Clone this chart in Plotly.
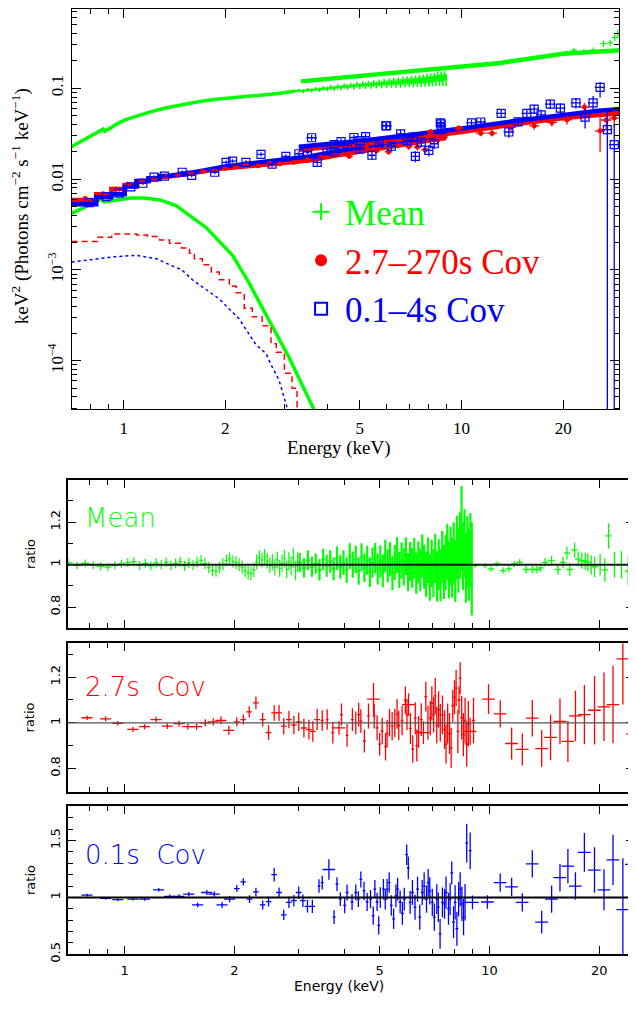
import plotly.graph_objects as go

GREEN = "#00ff00"
RED = "#ff0000"
BLUE = "#0000ff"
SERIF = "Liberation Serif"
SANS = "DejaVu Sans"

# ================= TOP PANEL: unfolded spectra =================
mean_soft_E = [0.70, 0.75, 0.80, 0.85, 0.87, 0.88, 0.92, 0.97, 1.02, 1.10, 1.20, 1.34, 1.50, 1.68, 1.85, 2.10, 2.35, 2.64, 2.90, 3.10, 3.20]
mean_soft_F = [0.0227, 0.0262, 0.0298, 0.0338, 0.0355, 0.0334, 0.0372, 0.0418, 0.0455, 0.0500, 0.0550, 0.0610, 0.0665, 0.0715, 0.0750, 0.0790, 0.0820, 0.0850, 0.0880, 0.0905, 0.0925]
mean_hard_E = [3.2, 3.3, 3.4, 3.5, 3.6, 3.7, 3.8, 3.9, 4.0, 4.1, 4.2, 4.3, 4.4, 4.5, 4.6, 4.7, 4.8, 4.9, 5.0, 5.1, 5.2, 5.3, 5.4, 5.5, 5.6, 5.7, 5.8, 5.9,
               6.0, 6.1, 6.2, 6.3, 6.4, 6.5, 6.6, 6.7, 6.8, 6.9, 7.0, 7.1, 7.2, 7.3, 7.4, 7.5, 7.6, 7.7, 7.8, 7.9, 8.0, 8.1, 8.2, 8.3, 8.4, 8.5, 8.6, 8.7, 8.8, 8.9, 9.0]
mean_hard_F = [0.0925, 0.0945, 0.0928, 0.0962, 0.0950, 0.0982, 0.0965, 0.1000, 0.0985, 0.1022, 0.1000, 0.1040, 0.1018, 0.1058, 0.1030, 0.1072, 0.1045, 0.1090, 0.1060, 0.1105, 0.1072, 0.1118, 0.1085, 0.1130, 0.1095, 0.1145, 0.1105, 0.1160,
               0.1118, 0.1170, 0.1125, 0.1185, 0.1135, 0.1195, 0.1140, 0.1210, 0.1150, 0.1220, 0.1160, 0.1232, 0.1168, 0.1245, 0.1175, 0.1258, 0.1185, 0.1270, 0.1192, 0.1285, 0.1200, 0.1300, 0.1210, 0.1320, 0.1225, 0.1360, 0.1230, 0.1345, 0.1240, 0.1380, 0.1250]
mean_hard_err = [0.004, 0.004, 0.0045, 0.0045, 0.005, 0.005, 0.0055, 0.0055,
                 0.006, 0.006, 0.0065, 0.0065, 0.007, 0.007, 0.0075, 0.0075, 0.008, 0.008,
                 0.0085, 0.0085, 0.009, 0.009, 0.0095, 0.0095, 0.010, 0.010, 0.0105, 0.0105,
                 0.011, 0.011, 0.0115, 0.0115, 0.012, 0.012, 0.0125, 0.0125, 0.013, 0.013,
                 0.0135, 0.0135, 0.014, 0.014, 0.0145, 0.0145, 0.015, 0.015, 0.0155, 0.0155,
                 0.016, 0.016, 0.0165, 0.0165, 0.017, 0.017, 0.0175, 0.0175, 0.018, 0.018, 0.019]
mean_nu_E = [3.35, 5.0, 7.0, 9.0, 10.0, 13.0, 16.0, 20.0, 25.0, 29.5]
mean_nu_F = [0.119, 0.136, 0.152, 0.165, 0.171, 0.190, 0.212, 0.240, 0.252, 0.262]
mean_nu_hi_E = [20.5, 21.5, 23.0, 24.5, 26.3, 27.5, 28.4, 29.0]
mean_nu_hi_F = [0.248, 0.262, 0.255, 0.262, 0.310, 0.315, 0.360, 0.400]
mean_nu_hi_err = [0.012, 0.015, 0.015, 0.018, 0.025, 0.025, 0.030, 0.040]

disk_mean_E = [0.702, 0.78, 0.86, 0.875, 0.95, 1.05, 1.15, 1.28, 1.43, 1.565, 1.76, 2.1, 2.35, 2.64, 3.09, 3.66]
disk_mean_F = [0.0042, 0.0050, 0.0060, 0.0056, 0.0059, 0.0062, 0.0062, 0.0059, 0.0051, 0.0040, 0.0029, 0.00145, 0.00072, 0.00032, 0.000108, 0.000029]
disk_slow_E = [0.702, 0.838, 0.922, 1.092, 1.177, 1.277, 1.367, 1.483, 1.566, 1.619, 1.71, 1.818, 1.919, 2.055, 2.154, 2.275, 2.403, 2.57, 2.73, 2.83, 2.99, 3.15, 3.26, 3.35]
disk_slow_F = [0.00206, 0.00229, 0.00249, 0.00243, 0.00233, 0.00214, 0.00197, 0.00175, 0.00153, 0.00133, 0.00114, 0.00095, 0.00078, 0.00066, 0.00056, 0.00038, 0.000305, 0.000243, 0.000154, 0.000124, 0.000073, 0.000050, 0.000031, 0.000031]
disk_fast_E = [0.702, 0.838, 0.922, 1.092, 1.251, 1.367, 1.483, 1.598, 1.756, 1.918, 2.027, 2.198, 2.305, 2.466, 2.64, 2.75, 2.88, 2.98, 3.05]
disk_fast_F = [0.00122, 0.00133, 0.00139, 0.00145, 0.00133, 0.00114, 0.00101, 0.00078, 0.00061, 0.00048, 0.00039, 0.00029, 0.00022, 0.00015, 0.00012, 0.000086, 0.000062, 0.000039, 0.000030]

slow_step_E = [0.70, 0.83, 0.92, 1.007, 1.092, 1.185, 1.277, 1.35]
slow_step_F = [0.0059, 0.0068, 0.0078, 0.0086, 0.0095, 0.0100, 0.0106, 0.0106]
fast_step_E = [0.70, 0.83, 0.92, 1.007, 1.092, 1.185, 1.277, 1.35]
fast_step_F = [0.0053, 0.0063, 0.0068, 0.0083, 0.0095, 0.0102, 0.0108, 0.0108]
slow_xmod_E = [1.35, 1.6, 2.0, 2.5, 3.15, 3.54, 4.2, 5.0, 6.0, 7.0, 8.0, 9.0]
slow_xmod_F = [0.0106, 0.0116, 0.0132, 0.0142, 0.0152, 0.0160, 0.0180, 0.0200, 0.0222, 0.0245, 0.0265, 0.0285]
fast_xmod_E = [1.35, 1.6, 2.0, 2.5, 3.15, 3.54, 4.2, 5.0, 6.0, 7.0, 8.0, 9.0]
fast_xmod_F = [0.0108, 0.0118, 0.0138, 0.0152, 0.0166, 0.0177, 0.0200, 0.0225, 0.0250, 0.0270, 0.0290, 0.0310]
slow_nmod_E = [3.3, 5.0, 7.0, 9.0, 10.0, 14.0, 20.0, 25.0, 29.5]
slow_nmod_F = [0.0210, 0.0240, 0.0280, 0.0312, 0.0330, 0.0395, 0.0470, 0.0505, 0.0530]
fast_nmod_E = [3.3, 5.0, 7.0, 9.0, 10.0, 14.0, 20.0, 25.0, 29.5]
fast_nmod_F = [0.0227, 0.0262, 0.0305, 0.0340, 0.0360, 0.0430, 0.0510, 0.0560, 0.0590]

slow_top_E = [0.77, 0.87, 0.95, 1.03, 1.13, 1.23, 1.33, 1.45, 1.58, 1.72, 1.86, 2.00, 2.15, 2.30, 2.50, 2.70, 2.90, 3.19, 3.50, 3.84, 4.20, 4.65, 5.20, 5.60, 6.08, 6.50, 6.98, 7.40, 7.80, 8.10, 8.50, 8.90]
slow_top_F = [0.0061, 0.0069, 0.0078, 0.0088, 0.0095, 0.0101, 0.0106, 0.0110, 0.0116, 0.0122, 0.0125, 0.0132, 0.0137, 0.0145, 0.0140, 0.0150, 0.0148, 0.0153, 0.0162, 0.0174, 0.0185, 0.0178, 0.0224, 0.0205, 0.0200, 0.0235, 0.0229, 0.0225, 0.0211, 0.0333, 0.0270, 0.0290]
slow_top_err = [0.0002, 0.0002, 0.0002, 0.0003, 0.0003, 0.0003, 0.0003, 0.0004, 0.0004, 0.0004, 0.0005, 0.0005, 0.0005, 0.0006, 0.0006, 0.0007, 0.0007, 0.0008, 0.0009, 0.0010, 0.0011, 0.0012, 0.0013, 0.0014, 0.0015, 0.0016, 0.0018, 0.0019, 0.0020, 0.0022, 0.0024, 0.0026]
slow_nu_top_E = [3.50, 4.30, 5.00, 6.00, 7.00, 8.00, 9.80, 11.4, 12.3, 14.0, 16.4, 18.5, 20.5, 23.1, 25.7, 26.8, 28.3]
slow_nu_top_F = [0.0205, 0.0225, 0.0245, 0.0255, 0.0280, 0.0300, 0.0365, 0.0320, 0.0320, 0.0370, 0.0386, 0.0420, 0.0450, 0.0620, 0.0340, 0.0447, 0.0470]
slow_nu_top_err = [0.0010, 0.0012, 0.0013, 0.0015, 0.0017, 0.0020, 0.0022, 0.0024, 0.0026, 0.0030, 0.0035, 0.0040, 0.0050, 0.0070, 0.0140, 0.0100, 0.0100]
fast_top_E = [0.79, 0.89, 0.97, 1.05, 1.14, 1.23, 1.32, 1.49, 1.59, 1.86, 2.01, 2.10, 2.30, 2.55, 2.75, 3.02, 3.30, 3.50, 3.74, 4.00, 4.20, 4.40, 4.60, 4.80, 5.00, 5.20, 5.43, 5.70, 5.97, 6.20, 6.60, 6.90, 7.30, 7.60, 8.00, 8.30, 8.65, 8.70]
fast_top_F = [0.0055, 0.0064, 0.0070, 0.0082, 0.0090, 0.0105, 0.0108, 0.0119, 0.0110, 0.0119, 0.0153, 0.0158, 0.0153, 0.0187, 0.0146, 0.0178, 0.0190, 0.0200, 0.0153, 0.0215, 0.0200, 0.0259, 0.0235, 0.0287, 0.0215, 0.0293, 0.0183, 0.0250, 0.0387, 0.0230, 0.0315, 0.0265, 0.0178, 0.0255, 0.0207, 0.0245, 0.0417, 0.0350]
fast_top_err = [0.0003, 0.0003, 0.0003, 0.0004, 0.0004, 0.0005, 0.0005, 0.0005, 0.0005, 0.0006, 0.0007, 0.0007, 0.0008, 0.0010, 0.0009, 0.0010, 0.0012, 0.0012, 0.0012, 0.0015, 0.0015, 0.0020, 0.0020, 0.0022, 0.0020, 0.0024, 0.0020, 0.0025, 0.0030, 0.0025, 0.0030, 0.0030, 0.0025, 0.0030, 0.0030, 0.0030, 0.0045, 0.0040]
fast_nu_top_E = [3.60, 4.20, 5.00, 6.00, 7.20, 8.70, 10.7, 11.4, 13.1, 13.8, 14.7, 15.6, 16.4, 17.2, 18.3, 19.6, 21.8, 23.2, 24.5, 25.7, 27.0, 28.3]
fast_nu_top_F = [0.0285, 0.0240, 0.0265, 0.0386, 0.0290, 0.0405, 0.0415, 0.0425, 0.0530, 0.0330, 0.0426, 0.0530, 0.0590, 0.0508, 0.0670, 0.0605, 0.0690, 0.0480, 0.0690, 0.1020, 0.0350, 0.0240]
fast_nu_top_errp = [0.0020, 0.0020, 0.0022, 0.0028, 0.0025, 0.0035, 0.0035, 0.0040, 0.0050, 0.0045, 0.0050, 0.0060, 0.0065, 0.0070, 0.0075, 0.0080, 0.0090, 0.0120, 0.0130, 0.0150, 0.0200, 0.0160]
fast_nu_top_errm = [0.0020, 0.0020, 0.0022, 0.0028, 0.0025, 0.0035, 0.0035, 0.0040, 0.0050, 0.0045, 0.0050, 0.0060, 0.0065, 0.0070, 0.0075, 0.0080, 0.0090, 0.0120, 0.0130, 0.0230, 0.0350, 0.0240]

# ================= RATIO PANELS =================
mean_r_soft_E = [0.70, 0.74, 0.78, 0.82, 0.86, 0.90, 0.94, 0.98, 1.02, 1.06, 1.10, 1.14, 1.18, 1.22, 1.26, 1.30, 1.34, 1.38, 1.42, 1.46, 1.50, 1.54, 1.58, 1.62, 1.66, 1.70, 1.74, 1.78, 1.82, 1.86, 1.90, 1.94, 1.98, 2.02, 2.06, 2.10, 2.14, 2.18, 2.22, 2.26, 2.30, 2.34, 2.38, 2.42, 2.46, 2.50, 2.54, 2.58, 2.62, 2.66, 2.70, 2.74, 2.78, 2.82, 2.86, 2.90, 2.94, 2.98]
mean_r_soft_R = [1.008, 0.996, 1.006, 0.998, 0.992, 0.988, 0.997, 1.004, 1.010, 1.014, 0.996, 1.006, 0.994, 1.008, 1.000, 1.012, 0.996, 1.006, 1.014, 0.994, 1.008, 0.998, 1.012, 1.020, 1.006, 0.986, 0.972, 0.970, 0.985, 1.002, 1.020, 1.028, 1.015, 1.010, 1.000, 0.988, 0.972, 0.962, 0.958, 0.975, 1.012, 1.032, 1.022, 1.038, 1.018, 0.998, 1.012, 0.988, 1.022, 0.982, 1.006, 1.028, 0.978, 1.016, 0.994, 1.032, 0.972, 1.012]
mean_r_soft_err = [0.018, 0.018, 0.018, 0.018, 0.019, 0.019, 0.019, 0.019, 0.020, 0.021, 0.021, 0.021, 0.021, 0.022, 0.022, 0.022, 0.023, 0.023, 0.023, 0.024, 0.024, 0.024, 0.025, 0.025, 0.026, 0.026, 0.026, 0.027, 0.027, 0.028, 0.028, 0.029, 0.029, 0.030, 0.030, 0.031, 0.031, 0.032, 0.032, 0.033, 0.034, 0.034, 0.035, 0.036, 0.036, 0.037, 0.038, 0.039, 0.039, 0.040, 0.041, 0.042, 0.042, 0.043, 0.044, 0.045, 0.046, 0.046]
mean_r_hard_E = [3.02, 3.10, 3.18, 3.26, 3.34, 3.42, 3.50, 3.58, 3.66, 3.74, 3.82, 3.90, 3.98, 4.06, 4.14, 4.22, 4.30, 4.38, 4.46, 4.54, 4.62, 4.70, 4.78, 4.86, 4.94, 5.02, 5.10, 5.18, 5.26, 5.34, 5.42, 5.50, 5.58, 5.66, 5.74, 5.82, 5.90, 5.98, 6.06, 6.14, 6.22, 6.30, 6.38, 6.46, 6.54, 6.62, 6.70, 6.78, 6.86, 6.94, 7.02, 7.10, 7.18, 7.26, 7.34, 7.42, 7.50, 7.58, 7.66, 7.74, 7.82, 7.90, 7.98, 8.06, 8.14, 8.22, 8.30, 8.38, 8.46, 8.54, 8.62, 8.70, 8.78, 8.86, 8.94]
mean_r_hard_R = [1.010, 0.985, 1.020, 0.990, 1.005, 0.975, 1.025, 0.995, 1.015, 0.980, 1.030, 0.990, 1.010, 0.975, 1.040, 1.000, 1.025, 0.970, 1.035, 0.985, 1.020, 0.965, 1.010, 1.030, 0.980, 1.015, 0.970, 1.040, 0.995, 1.025, 0.960, 1.010, 1.045, 0.975, 1.020, 0.990, 1.040, 0.965, 1.015, 0.985, 1.030, 0.960, 1.010, 0.975, 1.040, 0.990, 0.955, 1.020, 0.940, 1.005, 0.960, 1.030, 0.945, 1.000, 0.950, 1.035, 0.965, 1.010, 1.060, 0.975, 1.040, 0.985, 1.055, 0.970, 1.080, 1.020, 1.090, 1.170, 1.040, 1.100, 0.985, 1.060, 1.000, 1.070, 0.980]
mean_r_hard_err = [0.045, 0.045, 0.047, 0.047, 0.048, 0.050, 0.050, 0.052, 0.053, 0.054, 0.055, 0.056, 0.058, 0.060, 0.061, 0.062, 0.064, 0.065, 0.066, 0.067, 0.068, 0.070, 0.071, 0.072, 0.073, 0.075, 0.076, 0.077, 0.078, 0.080, 0.081, 0.082, 0.084, 0.085, 0.086, 0.088, 0.089, 0.090, 0.092, 0.094, 0.095, 0.097, 0.099, 0.100, 0.102, 0.104, 0.106, 0.108, 0.110, 0.112, 0.114, 0.116, 0.118, 0.120, 0.122, 0.124, 0.127, 0.130, 0.132, 0.135, 0.138, 0.140, 0.143, 0.146, 0.150, 0.152, 0.155, 0.200, 0.160, 0.162, 0.165, 0.168, 0.170, 0.172, 0.220]
mean_r_nu_E = [9.14, 9.73, 10.1, 10.5, 10.9, 11.3, 11.7, 12.1, 12.6, 13.1, 13.5, 13.8, 14.2, 14.8, 15.4, 15.9, 16.3, 16.6, 17.1, 17.5, 17.9, 18.3, 18.6, 19.0, 19.4, 20.1, 20.7, 21.2, 22.0, 23.0, 24.0, 24.7]
mean_r_nu_R = [0.995, 0.995, 0.980, 1.003, 0.972, 0.980, 1.003, 1.011, 0.977, 0.977, 0.977, 0.985, 1.011, 1.019, 0.977, 1.011, 1.054, 0.977, 1.068, 1.026, 1.019, 1.015, 1.011, 0.998, 0.990, 1.000, 0.975, 1.135, 1.000, 1.000, 0.970, 1.150]
mean_r_nu_err = [0.010, 0.012, 0.012, 0.013, 0.014, 0.014, 0.015, 0.016, 0.017, 0.017, 0.018, 0.019, 0.020, 0.022, 0.024, 0.026, 0.030, 0.030, 0.035, 0.035, 0.038, 0.040, 0.042, 0.045, 0.048, 0.050, 0.055, 0.060, 0.060, 0.065, 0.070, 0.080]

slow_r_xmm_E = [0.789, 0.887, 0.958, 1.054, 1.134, 1.22, 1.31, 1.41, 1.49, 1.575, 1.664, 1.75, 1.837, 1.93, 2.03, 2.115, 2.195, 2.29, 2.39, 2.48, 2.57, 2.65, 2.73, 2.82, 2.91, 3.0, 3.1, 3.2, 3.28, 3.37,
                3.48, 3.59, 3.72, 3.93, 4.07, 4.21, 4.30, 4.38, 4.44, 4.54, 4.66, 4.83, 4.92, 5.00, 5.08, 5.19, 5.24, 5.32, 5.41, 5.50, 5.58, 5.64, 5.76, 5.88, 5.94, 6.07, 6.16, 6.26, 6.32, 6.39, 6.50, 6.69, 6.78, 6.88, 6.95, 7.03, 7.10, 7.17, 7.25, 7.33, 7.43, 7.53, 7.60, 7.68, 7.77, 7.85, 7.93, 8.02, 8.10, 8.19, 8.25, 8.31, 8.39, 8.48, 8.57, 8.66, 8.75, 9.04]
slow_r_xmm_R = [1.022, 1.017, 0.998, 0.971, 0.983, 1.014, 0.985, 0.996, 0.983, 0.983, 1.000, 1.004, 1.010, 0.967, 1.004, 1.014, 1.048, 1.087, 1.014, 0.957, 1.043, 1.043, 0.985, 1.014, 0.990, 1.004, 0.977, 0.970, 0.962, 1.014,
                1.010, 1.014, 0.957, 1.036, 0.945, 1.014, 1.000, 1.036, 1.007, 0.920, 1.030, 1.030, 0.978, 0.906, 0.964, 0.894, 0.953, 1.000, 0.985, 1.000, 1.039, 0.988, 1.010, 1.100, 1.035, 0.975, 0.885, 1.020, 0.900, 0.960, 1.014, 1.115, 1.000, 1.020, 1.085, 1.035, 1.118, 0.990, 1.058, 1.000, 1.035, 0.970, 0.906, 0.997, 0.953, 0.890, 1.075, 1.112, 1.152, 0.962, 1.100, 1.195, 1.022, 0.948, 1.010, 0.907, 0.995, 1.010]
slow_r_xmm_err = [0.010, 0.010, 0.010, 0.011, 0.011, 0.012, 0.012, 0.013, 0.013, 0.014, 0.015, 0.016, 0.017, 0.020, 0.020, 0.022, 0.025, 0.028, 0.030, 0.032, 0.034, 0.035, 0.036, 0.038, 0.040, 0.040, 0.042, 0.043, 0.045, 0.046,
                  0.045, 0.045, 0.048, 0.048, 0.050, 0.050, 0.050, 0.052, 0.052, 0.050, 0.055, 0.055, 0.055, 0.050, 0.058, 0.060, 0.060, 0.060, 0.062, 0.062, 0.065, 0.065, 0.065, 0.060, 0.068, 0.068, 0.060, 0.070, 0.070, 0.070, 0.072, 0.065, 0.075, 0.075, 0.075, 0.078, 0.080, 0.080, 0.080, 0.082, 0.085, 0.085, 0.085, 0.088, 0.090, 0.088, 0.070, 0.075, 0.080, 0.095, 0.060, 0.070, 0.095, 0.095, 0.100, 0.100, 0.100, 0.100]
slow_r_nu_E = [3.87, 4.81, 6.00, 6.59, 8.85, 9.94, 10.7, 11.5, 12.3, 13.1, 13.9, 14.7, 15.6, 16.4, 17.2, 18.2, 19.4, 20.6, 21.8, 23.2, 24.7]
slow_r_nu_R = [0.978, 1.104, 1.080, 0.957, 0.962, 1.104, 1.039, 0.909, 0.883, 1.020, 0.887, 0.936, 1.006, 0.918, 1.030, 1.036, 1.055, 1.070, 1.080, 1.280, 0.950]
slow_r_nu_err = [0.030, 0.070, 0.050, 0.050, 0.060, 0.065, 0.060, 0.070, 0.070, 0.080, 0.080, 0.100, 0.100, 0.090, 0.110, 0.130, 0.150, 0.150, 0.170, 0.200, 0.200]

fast_r_xmm_E = [0.789, 0.887, 0.958, 1.054, 1.134, 1.24, 1.33, 1.41, 1.50, 1.586, 1.68, 1.76, 1.85, 1.94, 2.03, 2.115, 2.20, 2.29, 2.39, 2.48, 2.57, 2.65, 2.73, 2.82, 2.91, 3.00, 3.08, 3.17, 3.27, 3.41,
                3.48, 3.75, 3.82, 3.90, 4.01, 4.07, 4.20, 4.30, 4.37, 4.44, 4.53, 4.62, 4.72, 4.80, 4.85, 4.92, 4.97, 5.02, 5.12, 5.18, 5.24, 5.31, 5.38, 5.46, 5.54, 5.60, 5.69, 5.77, 5.84, 5.93, 5.99, 6.06, 6.15, 6.25, 6.35, 6.44, 6.54, 6.62, 6.72, 6.79, 6.86, 6.97, 7.06, 7.17, 7.24, 7.32, 7.43, 7.53, 7.60, 7.72, 7.80, 7.88, 7.97, 8.05, 8.14, 8.23, 8.31, 8.40, 8.49, 8.57, 8.66, 8.85]
fast_r_xmm_R = [1.020, 0.991, 0.980, 0.985, 0.985, 1.067, 1.010, 1.010, 1.029, 0.934, 1.043, 1.029, 0.934, 0.985, 1.078, 1.136, 0.985, 1.049, 0.934, 0.963, 1.200, 1.043, 0.847, 0.957, 0.971, 1.043, 0.971, 0.922, 0.922, 1.100,
                1.130, 0.827, 1.116, 0.985, 0.930, 1.043, 0.960, 1.043, 0.985, 1.158, 1.058, 0.960, 0.985, 0.840, 1.072, 0.960, 0.755, 1.000, 1.072, 0.985, 1.072, 1.130, 0.930, 0.812, 1.014, 1.072, 0.960, 0.860, 0.985, 1.375, 1.260, 0.957, 1.043, 0.914, 1.072, 0.827, 1.043, 1.100, 0.985, 1.130, 1.058, 0.957, 0.827, 0.985, 0.914, 0.680, 0.957, 0.943, 1.043, 0.900, 0.985, 1.216, 0.783, 0.957, 0.725, 0.985, 1.072, 0.943, 0.827, 0.957, 1.476, 1.410]
fast_r_xmm_err = [0.012, 0.012, 0.013, 0.013, 0.014, 0.015, 0.016, 0.017, 0.018, 0.020, 0.022, 0.024, 0.026, 0.028, 0.030, 0.032, 0.034, 0.036, 0.040, 0.042, 0.060, 0.045, 0.045, 0.050, 0.050, 0.052, 0.055, 0.055, 0.058, 0.060,
                  0.06, 0.06, 0.06, 0.06, 0.07, 0.07, 0.07, 0.07, 0.07, 0.07, 0.08, 0.08, 0.08, 0.08, 0.08, 0.08, 0.08, 0.09, 0.09, 0.09, 0.09, 0.09, 0.09, 0.09, 0.10, 0.10, 0.10, 0.10, 0.10, 0.09, 0.10, 0.10, 0.11, 0.11, 0.11, 0.11, 0.11, 0.12, 0.12, 0.12, 0.12, 0.12, 0.12, 0.13, 0.13, 0.13, 0.13, 0.13, 0.14, 0.14, 0.14, 0.10, 0.14, 0.15, 0.15, 0.15, 0.15, 0.15, 0.16, 0.16, 0.17, 0.16]
fast_r_nu_E = [3.63, 8.98, 9.87, 10.7, 11.5, 12.3, 13.1, 13.9, 14.8, 15.6, 16.4, 17.2, 18.2, 19.4, 20.6, 21.8, 23.2, 24.5]
fast_r_nu_R = [1.245, 0.957, 0.960, 1.130, 1.093, 0.957, 1.294, 0.783, 0.985, 1.173, 1.275, 1.100, 1.395, 1.240, 1.067, 1.330, 0.893, 1.290]
fast_r_nu_err = [0.09, 0.06, 0.06, 0.08, 0.08, 0.08, 0.12, 0.10, 0.12, 0.12, 0.15, 0.12, 0.17, 0.20, 0.18, 0.22, 0.45, 0.30]

x_tick_vals = [1, 2, 5, 10, 20]
x_tick_text = ["1", "2", "5", "10", "20"]
top_y_tick_vals = [1e-4, 1e-3, 0.01, 0.1]
top_y_tick_text = ["10<sup>\u22124</sup>", "10<sup>\u22123</sup>", "0.01", "0.1"]

# page body has an 8px margin: figure is placed 8px right/down of the window origin
W, H = 628, 995

fig = go.Figure()


def line(E, F, color, width, ax, dash=None, shape="linear"):
    fig.add_trace(go.Scatter(x=E, y=F, mode="lines", line=dict(color=color, width=width, dash=dash, shape=shape),
                             xaxis="x" + ax, yaxis="y" + ax, showlegend=False, hoverinfo="skip"))


def points(E, F, err, color, ax, xpct, symbol="circle", size=1, thick=1.3, errm=None, xconst=None, mline=0):
    ey = dict(type="data", array=err, color=color, thickness=thick, width=0)
    if errm is not None:
        ey.update(symmetric=False, arrayminus=errm)
    if xconst is not None:
        ex = dict(type="constant", value=xconst)
    else:
        ex = dict(type="percent", value=xpct)
    ex.update(color=color, thickness=thick, width=0)
    fig.add_trace(go.Scatter(x=E, y=F, mode="markers",
                             marker=dict(symbol=symbol, size=size, color=color, line=dict(color=color, width=mline)),
                             error_y=ey, error_x=ex, xaxis="x" + ax, yaxis="y" + ax,
                             showlegend=False, hoverinfo="skip"))


def split(E, R, err, lo, hi):
    idx = [i for i, e in enumerate(E) if lo <= e < hi]
    return [E[i] for i in idx], [R[i] for i in idx], [err[i] for i in idx]


# ---------- top panel ----------
line(disk_mean_E, disk_mean_F, GREEN, 3.5, "")
line(disk_slow_E, disk_slow_F, RED, 1.5, "", dash="6px,4px", shape="hv")
line(disk_fast_E, disk_fast_F, BLUE, 1.5, "", dash="dot")
line(mean_soft_E, mean_soft_F, GREEN, 3.5, "")
line(mean_hard_E, mean_hard_F, GREEN, 2.0, "")
points(mean_hard_E, mean_hard_F, mean_hard_err, GREEN, "", 0.8, thick=1.6)
line(mean_nu_E, mean_nu_F, GREEN, 4.5, "")
points(mean_nu_hi_E, mean_nu_hi_F, mean_nu_hi_err, GREEN, "", 2.0, thick=1.2)

line(slow_step_E, slow_step_F, RED, 4.5, "", shape="hv")
line(fast_step_E, fast_step_F, BLUE, 4.5, "", shape="hv")
line(slow_xmod_E, slow_xmod_F, RED, 4.5, "")
line(fast_xmod_E, fast_xmod_F, BLUE, 4.5, "")
line(slow_nmod_E, slow_nmod_F, RED, 4.5, "")
line(fast_nmod_E, fast_nmod_F, BLUE, 4.5, "")

points(slow_top_E, slow_top_F, slow_top_err, RED, "", 2.5, size=5)
points(slow_nu_top_E, slow_nu_top_F, slow_nu_top_err, RED, "", 3.5, size=5)
points(fast_top_E, fast_top_F, fast_top_err, BLUE, "", 2.5, symbol="square-open", size=8, mline=1.2)
points(fast_nu_top_E, fast_nu_top_F, fast_nu_top_errp, BLUE, "", 3.5, symbol="square-open", size=8,
       errm=fast_nu_top_errm, mline=1.2)

fig.add_trace(go.Scatter(x=[None], y=[None], mode="markers", xaxis="x", yaxis="y",
                         marker=dict(symbol="cross-thin-open", size=13, color=GREEN, line=dict(color=GREEN, width=1.3)),
                         name='<span style="color:#00ff00">Mean</span>'))
fig.add_trace(go.Scatter(x=[None], y=[None], mode="markers", xaxis="x", yaxis="y",
                         marker=dict(symbol="circle", size=6, color=RED),
                         name='<span style="color:#ff0000">2.7\u2013270s Cov</span>'))
fig.add_trace(go.Scatter(x=[None], y=[None], mode="markers", xaxis="x", yaxis="y",
                         marker=dict(symbol="square-open", size=11, color=BLUE, line=dict(color=BLUE, width=1.3)),
                         name='<span style="color:#0000ff">0.1\u20134s Cov</span>'))

# ---------- ratio panels ----------
points(mean_r_soft_E, mean_r_soft_R, mean_r_soft_err, GREEN, "2", None, thick=1.2, xconst=0.02)
points(mean_r_hard_E, mean_r_hard_R, mean_r_hard_err, GREEN, "2", None, thick=2.2, xconst=0.04)
points(mean_r_nu_E, mean_r_nu_R, mean_r_nu_err, GREEN, "2", 2.0, thick=1.3)

for lo, hi, pct in [(0, 2.0, 3.5), (2.0, 3.4, 1.8), (3.4, 10, 0.9)]:
    e, r, s = split(slow_r_xmm_E, slow_r_xmm_R, slow_r_xmm_err, lo, hi)
    points(e, r, s, RED, "3", pct)
    e, r, s = split(fast_r_xmm_E, fast_r_xmm_R, fast_r_xmm_err, lo, hi)
    points(e, r, s, BLUE, "4", pct)
points(slow_r_nu_E, slow_r_nu_R, slow_r_nu_err, RED, "3", 4.0)
points(fast_r_nu_E, fast_r_nu_R, fast_r_nu_err, BLUE, "4", 4.0)

# ---------- axes ----------
top_minor_y = [k * 10.0 ** p for p in range(-5, 0) for k in range(2, 10)]


def xaxis_style(rng, dom, anchor, font, labels, major_len, lw, standoff):
    return dict(type="log", range=rng, domain=dom, anchor=anchor, showgrid=False, zeroline=False,
                showline=True, linecolor="black", linewidth=lw, mirror="allticks",
                ticks="inside", ticklen=major_len, tickwidth=1.2, tickcolor="black",
                tickvals=x_tick_vals, ticktext=x_tick_text, showticklabels=labels,
                ticklabelstandoff=standoff,
                tickfont=font, minor=dict(tickvals=[0.8, 0.9, 3, 4, 6, 7, 8, 9], ticks="inside",
                                          ticklen=5, tickwidth=1, tickcolor="black"))


serif_tick = dict(family=SERIF, size=17, color="black")
sans_tick = dict(family=SANS, size=13, color="black")

RX = [-0.1557, 1.396]
RDOM = [60 / W, 1.0]


def py(y_screen):
    return 1 - (y_screen - 8) / H


def px(x_screen):
    return (x_screen - 8) / W


fig.update_layout(
    width=W, height=H, margin=dict(l=0, r=0, t=0, b=0),
    plot_bgcolor="white", paper_bgcolor="white", showlegend=True,
    legend=dict(x=px(298), y=py(183), xanchor="left", yanchor="top", bgcolor="rgba(0,0,0,0)",
                font=dict(family=SERIF, size=35), itemsizing="constant", tracegroupgap=0, itemwidth=38),
    xaxis=xaxis_style([-0.1534, 1.466], [px(72), px(621)], "y", serif_tick, True, 9, 1.3, 3),
    yaxis=dict(type="log", range=[-4.534, -0.128], domain=[py(412), py(8)], anchor="x",
               showgrid=False, zeroline=False, showline=True, linecolor="black", linewidth=1.3,
               mirror="allticks", ticks="inside", ticklen=9, tickwidth=1.2, tickcolor="black",
               tickvals=top_y_tick_vals, ticktext=top_y_tick_text, tickangle=-90, tickfont=serif_tick,
               ticklabelstandoff=1,
               minor=dict(tickvals=top_minor_y, ticks="inside", ticklen=5, tickwidth=1, tickcolor="black")),
    xaxis2=xaxis_style(RX, RDOM, "y2", sans_tick, False, 8, 2, 0),
    xaxis3=xaxis_style(RX, RDOM, "y3", sans_tick, False, 8, 2, 0),
    xaxis4=xaxis_style(RX, RDOM, "y4", sans_tick, True, 8, 2, 3),
)

ratio_axes = [
    ("yaxis2", "x2", [0.70, 1.40], [py(633), py(483)], [0.8, 1, 1.2], ["0.8", "1", "1.2"], [0.7, 0.9, 1.1, 1.3]),
    ("yaxis3", "x3", [0.697, 1.349], [py(798), py(648)], [0.8, 1, 1.2], ["0.8", "1", "1.2"], [0.9, 1.1, 1.3]),
    ("yaxis4", "x4", [0.5, 1.805], [py(962), py(812)], [0.5, 1, 1.5], ["0.5", "1", "1.5"],
     [0.6, 0.7, 0.8, 0.9, 1.1, 1.2, 1.3, 1.4, 1.6, 1.7]),
]
for name, anc, rng, dom, tv, tt, mv in ratio_axes:
    fig.update_layout(**{name: dict(range=rng, domain=dom, anchor=anc, showgrid=False, zeroline=False,
                                    showline=True, linecolor="black", linewidth=2, mirror="allticks",
                                    ticks="inside", ticklen=8, tickwidth=1.2, tickcolor="black",
                                    tickvals=tv, ticktext=tt, tickangle=-90, tickfont=sans_tick,
                                    ticklabelstandoff=1,
                                    minor=dict(tickvals=mv, ticks="inside", ticklen=5, tickwidth=1,
                                               tickcolor="black"))})

for n, col, w in [("2", "#1a1a1a", 2), ("3", "#555555", 1.2), ("4", "#000000", 2)]:
    fig.add_shape(type="line", xref="x" + n + " domain", x0=0, x1=1, yref="y" + n, y0=1, y1=1,
                  line=dict(color=col, width=w))

ann = [
    dict(text="keV<sup>2</sup> (Photons cm<sup>\u22122</sup> s<sup>\u22121</sup> keV<sup>\u22121</sup>)",
         x=px(20), y=py(207), textangle=-90, yanchor="middle", font=dict(family=SERIF, size=19, color="black")),
    dict(text="Energy (keV)", x=px(340), y=py(451), yanchor="middle", font=dict(family=SERIF, size=19, color="black")),
    dict(text="ratio", x=px(30), y=py(558), textangle=-90, yanchor="middle", font=dict(family=SANS, size=13, color="black")),
    dict(text="ratio", x=px(30), y=py(723), textangle=-90, yanchor="middle", font=dict(family=SANS, size=13, color="black")),
    dict(text="ratio", x=px(30), y=py(887), textangle=-90, yanchor="middle", font=dict(family=SANS, size=13, color="black")),
    dict(text="Energy (keV)", x=px(340), y=0.0, yanchor="bottom", borderpad=0, font=dict(family=SANS, size=14, color="black")),
]
for a in ann:
    fig.add_annotation(xref="paper", yref="paper", showarrow=False, xanchor="center", **a)

for n, txt, col, yy in [("2", "Mean", GREEN, 0.74), ("3", "2.7s  Cov", RED, 0.707), ("4", "0.1s  Cov", BLUE, 0.667)]:
    fig.add_annotation(xref="x" + n + " domain", yref="y" + n + " domain", x=0.026, y=yy, text=txt,
                       showarrow=False, xanchor="left", yanchor="middle",
                       font=dict(family=SANS, size=26, color=col, weight=200))

fig.write_html("out.html")
